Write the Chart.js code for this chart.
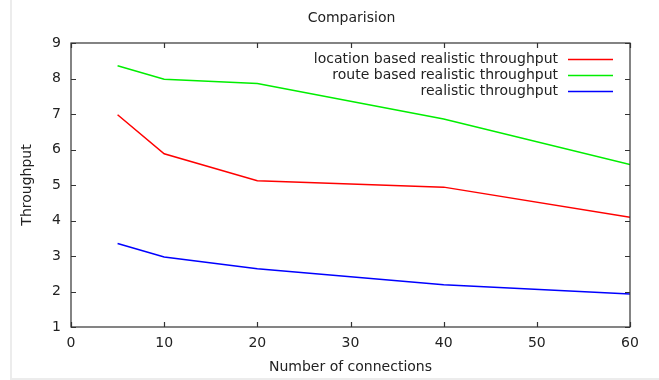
<!DOCTYPE html>
<html>
<head>
<meta charset="utf-8">
<script src="https://cdn.jsdelivr.net/npm/chart.js@4/dist/chart.umd.min.js"></script>
<style>
    html, body { margin: 0; padding: 0; background: #fff; }
</style>
</head>
<body>
<canvas id="chart" width="659" height="380"></canvas>
<script>
// data
const connections = [5, 10, 20, 40, 60];
const location_based = [6.98, 5.88, 5.12, 4.94, 4.09];
const route_based = [8.36, 7.98, 7.86, 6.86, 5.58];
const realistic = [3.35, 2.97, 2.64, 2.19, 1.93];
const series_names = [
    "location based realistic throughput",
    "route based realistic throughput",
    "realistic throughput",
];
const series_colors = ["#ff0000", "#00ee00", "#0000ff"];
const chart_title = "Comparision";

const font_family = "'DejaVu Sans', sans-serif";
const font_size = 14;
const text_color = "#222";

const to_points = (ys) => connections.map((x, i) => ({ x: x, y: ys[i] }));

// gnuplot style: box, inward ticks on all four sides, legend with text then line
// title is centred over the plot box, not the whole canvas
const gnuplot_frame = {
    id: "gnuplot_frame",
    beforeDraw(chart) {
        const ctx = chart.ctx;
        ctx.save();
        ctx.strokeStyle = "#ececec";
        ctx.lineWidth = 2;
        ctx.beginPath();
        ctx.moveTo(11, 0);
        ctx.lineTo(11, 379);
        ctx.lineTo(659, 379);
        ctx.stroke();
        ctx.restore();
    },
    afterDraw(chart) {
        const ctx = chart.ctx;
        const { left, right, top, bottom } = chart.chartArea;
        const x = chart.scales.x;
        const y = chart.scales.y;
        const tick_len = 5;
        ctx.save();
        ctx.strokeStyle = "#333";
        ctx.lineWidth = 1.2;
        ctx.strokeRect(left, top, right - left, bottom - top);
        ctx.beginPath();
        x.ticks.forEach((t) => {
            const px = Math.round(x.getPixelForValue(t.value)) + 0.5;
            ctx.moveTo(px, bottom);
            ctx.lineTo(px, bottom - tick_len);
            ctx.moveTo(px, top);
            ctx.lineTo(px, top + tick_len);
        });
        y.ticks.forEach((t) => {
            const py = Math.round(y.getPixelForValue(t.value)) + 0.5;
            ctx.moveTo(left, py);
            ctx.lineTo(left + tick_len, py);
            ctx.moveTo(right, py);
            ctx.lineTo(right - tick_len, py);
        });
        ctx.stroke();

        ctx.font = font_size + "px " + font_family;
        ctx.fillStyle = text_color;

        // title
        ctx.textAlign = "center";
        ctx.textBaseline = "middle";
        ctx.fillText(chart_title, (left + right) / 2 + 1, 18);

        // legend
        ctx.textAlign = "right";
        series_names.forEach((name, i) => {
            const ly = 59 + i * 16;
            ctx.fillStyle = text_color;
            ctx.fillText(name, right - 72, ly);
            ctx.strokeStyle = series_colors[i];
            ctx.lineWidth = 1.5;
            ctx.beginPath();
            ctx.moveTo(right - 62, ly + 0.5);
            ctx.lineTo(right - 17, ly + 0.5);
            ctx.stroke();
        });
        ctx.restore();
    },
};

const ctx = document.getElementById("chart").getContext("2d");
const chart = new Chart(ctx, {
    type: "line",
    data: {
        datasets: [location_based, route_based, realistic].map((ys, i) => ({
            label: series_names[i],
            data: to_points(ys),
            borderColor: series_colors[i],
            borderWidth: 1.5,
            pointRadius: 0,
            tension: 0,
            fill: false,
        })),
    },
    options: {
        responsive: false,
        animation: false,
        devicePixelRatio: 1,
        layout: { padding: { left: 0, right: 29, top: 43, bottom: 0 } },
        plugins: {
            legend: { display: false },
            tooltip: { enabled: false },
            title: { display: false },
        },
        scales: {
            x: {
                type: "linear",
                min: 0,
                max: 60,
                grid: { display: false, drawTicks: false },
                border: { display: false },
                ticks: {
                    stepSize: 10,
                    padding: 8,
                    color: text_color,
                    font: { family: font_family, size: font_size },
                },
                title: {
                    display: true,
                    text: "Number of connections",
                    color: text_color,
                    font: { family: font_family, size: font_size },
                    padding: { top: 0, bottom: 4.5 },
                },
                afterFit: (scale) => {
                    scale.height = 53;
                },
            },
            y: {
                min: 1,
                max: 9,
                grid: { display: false, drawTicks: false },
                border: { display: false },
                ticks: {
                    stepSize: 1,
                    padding: 10,
                    color: text_color,
                    font: { family: font_family, size: font_size },
                },
                title: {
                    display: true,
                    text: "Throughput",
                    color: text_color,
                    font: { family: font_family, size: font_size },
                    padding: { top: 19, bottom: 0 },
                },
                afterFit: (scale) => {
                    scale.width = 71;
                },
            },
        },
    },
    plugins: [gnuplot_frame],
});
</script>
</body>
</html>
